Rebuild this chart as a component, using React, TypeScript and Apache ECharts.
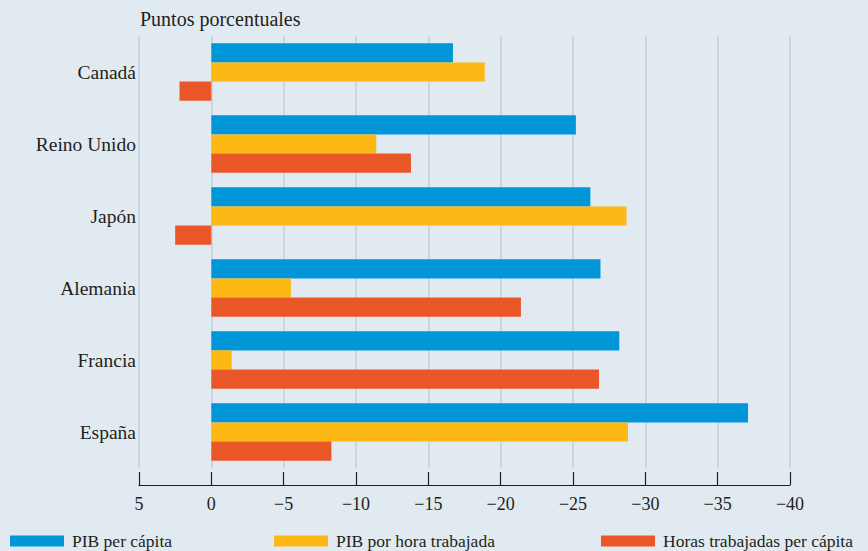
import React, { useEffect, useRef } from "react";
import * as echarts from "echarts";

const categories = ["Canadá", "Reino Unido", "Japón", "Alemania", "Francia", "España"];
const pibPerCapita = [-16.7, -25.2, -26.2, -26.9, -28.2, -37.1];
const pibPorHora = [-18.9, -11.4, -28.7, -5.5, -1.4, -28.8];
const horasPerCapita = [2.2, -13.8, 2.5, -21.4, -26.8, -8.3];
const seriesNames = ["PIB per cápita", "PIB por hora trabajada", "Horas trabajadas per cápita"];
const colors = ["#0096d8", "#fdb815", "#e95628"];

const FONT = "'Liberation Serif', serif";
const TEXT = "#231f20";

export default function App() {
  const ref = useRef<HTMLDivElement>(null);
  useEffect(() => {
    if (!ref.current) return;
    const chart = echarts.init(ref.current, null, { renderer: "svg" });
    const legendLefts = [10, 274, 601];
    chart.setOption({
      animation: false,
      backgroundColor: "#e1eaf0",
      textStyle: { fontFamily: FONT },
      title: {
        text: "Puntos porcentuales",
        left: 135,
        top: 4,
        textStyle: { fontFamily: FONT, fontSize: 20, fontWeight: "normal", color: TEXT },
      },
      legend: seriesNames.map((n, i) => ({
        data: [n],
        left: legendLefts[i],
        top: 532,
        itemWidth: 54,
        itemHeight: 11,
        itemGap: 0,
        icon: "rect",
        textStyle: { fontFamily: FONT, fontSize: 17.5, color: TEXT, padding: [0, 0, 0, 3] },
        padding: 0,
      })),
      grid: { left: 139, right: 78, top: 36, bottom: 83 },
      xAxis: {
        type: "value",
        inverse: true,
        min: -40,
        max: 5,
        interval: 5,
        offset: 17,
        axisLine: { show: true, lineStyle: { color: TEXT, width: 1.2 } },
        axisTick: { show: true, inside: true, length: 13, lineStyle: { color: TEXT, width: 1.2 } },
        splitLine: { show: true, lineStyle: { color: "#bed2de", width: 1.5 } },
        axisLabel: {
          fontFamily: FONT,
          fontSize: 18,
          color: TEXT,
          margin: 10,
          formatter: (v: number) => (v < 0 ? "\u2212" + Math.abs(v) : String(v)),
        },
      },
      yAxis: {
        type: "category",
        inverse: true,
        data: categories,
        axisLine: { show: false },
        axisTick: { show: false },
        axisLabel: { fontFamily: FONT, fontSize: 19.5, color: TEXT, margin: 3 },
      },
      series: [pibPerCapita, pibPorHora, horasPerCapita].map((d, i) => ({
        name: seriesNames[i],
        type: "bar",
        data: d,
        barGap: "0%",
        barCategoryGap: "20%",
        itemStyle: { color: colors[i] },
      })),
    });
    return () => chart.dispose();
  }, []);
  return <div ref={ref} style={{ width: 868, height: 551, position: "absolute", left: 0, top: 0 }} />;
}
